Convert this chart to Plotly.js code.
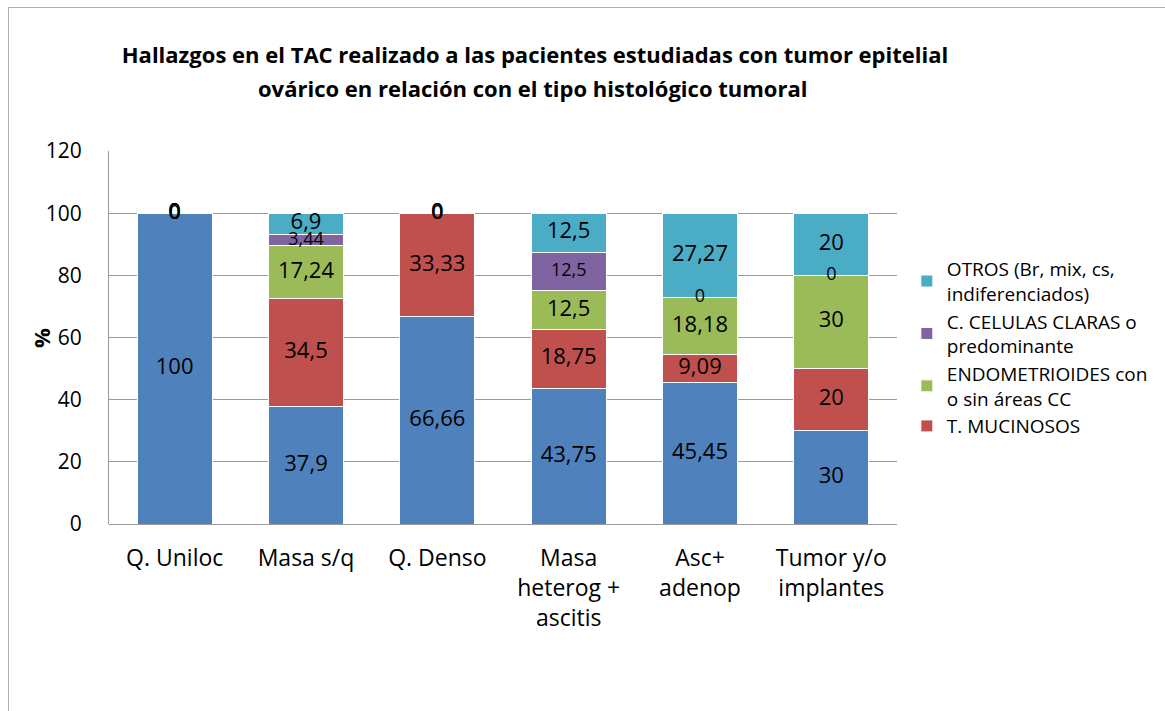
<!DOCTYPE html>
<html>
<head>
<meta charset="utf-8">
<script src="https://cdn.plot.ly/plotly-3.0.1.min.js"></script>
<style>
html,body{margin:0;padding:0;background:#fff;overflow:hidden;}
#chart{position:absolute;left:0;top:0;width:1165px;height:711px;}
#frame{position:absolute;left:8px;top:7px;width:1200px;height:760px;border:1.5px solid #b0b0b0;pointer-events:none;}
</style>
</head>
<body>
<div id="chart"></div>
<div id="frame"></div>
<script>
const categories = ["Q. Uniloc", "Masa s/q", "Q. Denso", "Masa<br>heterog +<br>ascitis", "Asc+<br>adenop", "Tumor y/o<br>implantes"];
const serosos   = [100, 37.9, 66.66, 43.75, 45.45, 30];
const mucinosos = [0, 34.5, 33.33, 18.75, 9.09, 20];
const endometrioides = [0, 17.24, 0, 12.5, 18.18, 30];
const celulasClaras  = [0, 3.44, 0, 12.5, 0, 0];
const otros     = [0, 6.9, 0, 12.5, 27.27, 20];

const seriesNames = ["SEROSOS", "T. MUCINOSOS", "ENDOMETRIOIDES con<br>o sin áreas CC", "C. CELULAS CLARAS o<br>predominante", "OTROS (Br, mix, cs,<br>indiferenciados)"];
const seriesValues = [serosos, mucinosos, endometrioides, celulasClaras, otros];
const seriesColors = ["#4F81BD", "#C0504D", "#9BBB59", "#8064A2", "#4BACC6"];
const labelSizes = [22, 22, 22, 18, 22];
const titleLine1 = "Hallazgos en el TAC realizado a las pacientes estudiadas con tumor epitelial";
const titleLine2 = "ovárico en relación con el tipo histológico tumoral";
const FONT = "'Open Sans', 'Noto Sans', sans-serif";

const traces = [];
seriesValues.forEach((vals, i) => {
  traces.push({
    type: "bar", x: categories, y: vals, name: seriesNames[i],
    marker: {color: seriesColors[i], line: {color: "#ffffff", width: 1}},
    showlegend: i !== 0, hoverinfo: "skip"
  });
});
// data labels at segment centres
const base = categories.map(() => 0);
seriesValues.forEach((vals, i) => {
  const ys = vals.map((v, j) => base[j] + v / 2);
  vals.forEach((v, j) => { base[j] += v; });
  traces.push({
    type: "scatter", mode: "text", x: categories, y: ys,
    text: vals.map(v => String(v).replace(".", ",")),
    textposition: "middle center",
    textfont: {family: FONT, size: labelSizes[i], color: "#000"},
    showlegend: false, hoverinfo: "skip", cliponaxis: false
  });
});

const layout = {
  width: 1165, height: 711,
  paper_bgcolor: "#fff", plot_bgcolor: "#fff",
  margin: {l: 109, r: 263, t: 151, b: 187},
  barmode: "stack", bargap: 0.43,
  font: {family: FONT, color: "#000"},
  title: {
    text: "<b>" + titleLine1 + "</b>",
    font: {family: FONT, size: 22, color: "#000"},
    x: 535 / 1165, xanchor: "center", xref: "container",
    y: 1 - 55 / 711, yanchor: "middle", yref: "container"
  },
  annotations: [
    {text: "<b>" + titleLine2 + "</b>", xref: "paper", yref: "paper",
     x: (535 - 109) / 793, y: (524 - 88) / 373, xanchor: "center", yanchor: "middle",
     showarrow: false, font: {family: FONT, size: 22, color: "#000"}},
    {text: "<b>%</b>", xref: "paper", yref: "paper",
     x: (40 - 109) / 793, y: 0.5, xanchor: "center", yanchor: "middle", textangle: -90,
     showarrow: false, font: {family: FONT, size: 22, color: "#000"}}
  ],
  xaxis: {
    type: "category", showgrid: false, zeroline: false,
    showline: false, ticks: "",
    tickfont: {family: FONT, size: 23, color: "#000"},
    ticklabelstandoff: 18
  },
  yaxis: {
    range: [0, 120], dtick: 20, tick0: 0,
    showgrid: true, gridcolor: "#9a9a9a", gridwidth: 1,
    zeroline: true, zerolinecolor: "#9a9a9a", zerolinewidth: 1,
    showline: true, linecolor: "#9a9a9a", linewidth: 1,
    ticks: "", ticklabelstandoff: 22,
    tickfont: {family: FONT, size: 21, color: "#000"}
  },
  legend: {
    x: 1.0125, xanchor: "left", y: 0.735, yanchor: "top",
    traceorder: "reversed",
    font: {family: FONT, size: 19, color: "#000"},
    bgcolor: "rgba(0,0,0,0)", itemwidth: 30, tracegroupgap: 0
  },
  showlegend: true
};

Plotly.newPlot("chart", traces, layout, {displayModeBar: false, staticPlot: true});
</script>
</body>
</html>
